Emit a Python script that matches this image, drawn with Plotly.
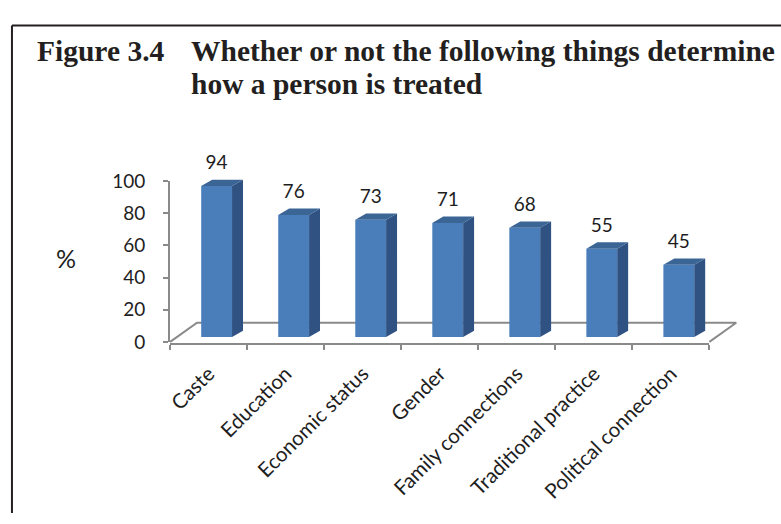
import plotly.graph_objects as go

# Survey results: share of respondents (%) naming each factor
categories = ["Caste", "Education", "Economic status", "Gender",
              "Family connections", "Traditional practice", "Political connection"]
values = [94, 76, 73, 71, 68, 55, 45]
y_ticks = [0, 20, 40, 60, 80, 100]

W, H = 781, 524

# pixel helpers for paper coordinates
def fx(px):
    return px / W

def fy(py):
    return 1 - py / H

# projection of the chart floor (category units / value units)
PX_PER_CAT = (709 - 167) / len(categories)
PX_PER_VAL = 1.68
floor_dx, floor_dy = 27 / PX_PER_CAT, 20 / PX_PER_VAL      # floor depth
bar_dx, bar_dy = 11 / PX_PER_CAT, 6.7 / PX_PER_VAL          # bar depth
bar_w = 31 / PX_PER_CAT
bar_shift = -7.5 / PX_PER_CAT                                # front-face left edge vs category centre
bar_base = 5 / PX_PER_VAL

FRONT = "#4A7EBB"
TOP = "#3B6595"
SIDE = "#2F5282"
GRID = "#8A8A8A"
INK = "#1E1E1E"

# drawing area shared by the floor subplot and the bar subplot
dom_x = (110, 770)
dom_y = (130, 410)
x_lo = -0.5 - (167 - dom_x[0]) / PX_PER_CAT
x_hi = x_lo + (dom_x[1] - dom_x[0]) / PX_PER_CAT
y_lo = -(dom_y[1] - 345) / PX_PER_VAL
y_hi = y_lo + (dom_y[1] - dom_y[0]) / PX_PER_VAL

n = len(categories)
fig = go.Figure()

# floor parallelogram (bottom layer)
fx0, fx1 = -0.5, n - 0.5
fig.add_trace(go.Scatter(
    x=[fx0, fx0 + floor_dx, fx1 + floor_dx, fx1],
    y=[0, floor_dy, floor_dy, 0],
    mode="lines", line=dict(color=GRID, width=2),
    hoverinfo="skip", showlegend=False))

# bar front faces (separate subplot so they sit above the floor)
lefts = [i + bar_shift for i in range(n)]
fig.add_trace(go.Bar(
    x=[l + bar_w / 2 for l in lefts], y=values, base=[bar_base] * n,
    width=bar_w, marker=dict(color=FRONT, line=dict(width=0)),
    xaxis="x5", yaxis="y5", hoverinfo="skip", showlegend=False))

# side and top faces
sx, sy, tx, ty = [], [], [], []
for l, v in zip(lefts, values):
    r = l + bar_w
    top = bar_base + v
    sx += [r, r + bar_dx, r + bar_dx, r, r, None]
    sy += [bar_base, bar_base + bar_dy, top + bar_dy, top, bar_base, None]
    tx += [l, l + bar_dx, r + bar_dx, r, l, None]
    ty += [top, top + bar_dy, top + bar_dy, top, top, None]
fig.add_trace(go.Scatter(x=sx, y=sy, fill="toself", fillcolor=SIDE, mode="lines",
                         line=dict(width=0, color=SIDE), xaxis="x5", yaxis="y5",
                         hoverinfo="skip", showlegend=False))
fig.add_trace(go.Scatter(x=tx, y=ty, fill="toself", fillcolor=TOP, mode="lines",
                         line=dict(width=0, color=TOP), xaxis="x5", yaxis="y5",
                         hoverinfo="skip", showlegend=False))

# value labels
fig.add_trace(go.Scatter(
    x=[l + bar_w / 2 for l in lefts],
    y=[bar_base + v + bar_dy + 16 / PX_PER_VAL for v in values],
    text=[str(v) for v in values], mode="text",
    textfont=dict(family="Lato", size=19, color=INK), xaxis="x5", yaxis="y5",
    cliponaxis=False, hoverinfo="skip", showlegend=False))

fig.update_layout(
    width=W, height=H, margin=dict(l=0, r=0, t=0, b=0),
    paper_bgcolor="white", plot_bgcolor="rgba(0,0,0,0)",
    font=dict(family="Lato", color=INK),
    xaxis=dict(domain=[fx(dom_x[0]), fx(dom_x[1])], range=[x_lo, x_hi], visible=False),
    yaxis=dict(domain=[fy(dom_y[1]), fy(dom_y[0])], range=[y_lo, y_hi], visible=False),
    xaxis5=dict(domain=[fx(dom_x[0]), fx(dom_x[1])], range=[x_lo, x_hi], visible=False,
                anchor="y5"),
    yaxis5=dict(domain=[fy(dom_y[1]), fy(dom_y[0])], range=[y_lo, y_hi], visible=False,
                anchor="x5"),
    # value axis
    xaxis2=dict(domain=[fx(167), fx(168)], range=[0, 1], visible=False, anchor="y2"),
    yaxis2=dict(domain=[fy(345), fy(345 - 100 * PX_PER_VAL)], range=[0, 100],
                anchor="x2", tickvals=y_ticks, showline=True, linecolor=GRID, linewidth=2,
                ticks="outside", ticklen=5, tickcolor=GRID, tickwidth=2, showgrid=False,
                zeroline=False, tickfont=dict(family="Lato", size=19, color=INK),
                ticklabelstandoff=14),
    # category axis: boundary ticks
    xaxis3=dict(domain=[fx(167), fx(167 + n * PX_PER_CAT)], range=[-0.5, n - 0.5], anchor="y3",
                tickvals=[i - 0.5 for i in range(n + 1)], showticklabels=False,
                ticks="outside", ticklen=5, tickcolor=GRID, tickwidth=2,
                showline=True, linecolor=GRID, linewidth=2, showgrid=False, zeroline=False),
    yaxis3=dict(domain=[fy(346), fy(345)], range=[0, 1], visible=False, anchor="x3"),
    # category axis: labels
    xaxis4=dict(overlaying="x3", anchor="y3", range=[-0.5, n - 0.5],
                tickvals=list(range(n)), ticktext=categories, tickangle=-45,
                ticks="", showline=False, showgrid=False, zeroline=False,
                tickfont=dict(family="Lato", size=20.5, color=INK), ticklabelstandoff=14),
)
# placeholder traces to activate the helper axes
fig.add_trace(go.Scatter(x=[None], y=[None], xaxis="x2", yaxis="y2", showlegend=False))
fig.add_trace(go.Scatter(x=[None], y=[None], xaxis="x3", yaxis="y3", showlegend=False))
fig.add_trace(go.Scatter(x=[None], y=[None], xaxis="x4", yaxis="y3", showlegend=False))

# frame
fig.add_shape(type="line", xref="paper", yref="paper", x0=fx(8), x1=1.0, y0=fy(14), y1=fy(14),
              line=dict(color="#231F20", width=2))
fig.add_shape(type="line", xref="paper", yref="paper", x0=fx(8), x1=fx(8), y0=fy(14), y1=0,
              line=dict(color="#231F20", width=2))

# title
title_font = dict(family="Liberation Serif", size=29.5, color="#231F20")
fig.add_annotation(text="<b>Figure 3.4</b>", xref="paper", yref="paper", x=fx(31), y=fy(41),
                   xanchor="left", yanchor="middle", showarrow=False, font=title_font)
fig.add_annotation(text="<b>Whether or not the following things determine</b>", xref="paper",
                   yref="paper", x=fx(186), y=fy(41), xanchor="left", yanchor="middle",
                   showarrow=False, font=title_font)
fig.add_annotation(text="<b>how a person is treated</b>", xref="paper", yref="paper",
                   x=fx(186), y=fy(75), xanchor="left", yanchor="middle",
                   showarrow=False, font=title_font)

# value-axis unit
fig.add_annotation(text="%", xref="paper", yref="paper", x=fx(62), y=fy(257),
                   xanchor="center", yanchor="middle", showarrow=False,
                   font=dict(family="Lato", size=25, color=INK))

# page without the default body margin, so the figure fills the window exactly
fig.write_html("out.html",
               post_script="document.body.style.margin='0';document.body.style.overflow='hidden';")
